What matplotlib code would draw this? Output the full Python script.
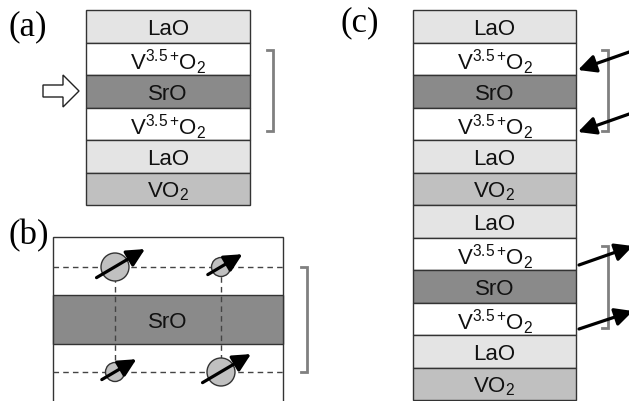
import matplotlib
matplotlib.use("Agg")
import matplotlib.pyplot as plt
from matplotlib.patches import Rectangle, Circle, FancyArrow

plt.rcParams['mathtext.fontset'] = 'custom'
plt.rcParams['mathtext.rm'] = 'Liberation Sans'
plt.rcParams['mathtext.it'] = 'Liberation Sans'
plt.rcParams['font.family'] = ['Liberation Sans', 'DejaVu Sans']

# ---------------- data ----------------
V_LAYER = r'$\mathregular{V^{3.5+}\!O_2}$'
VO2 = r'$\mathregular{VO_2}$'
layers_a = ['LaO', V_LAYER, 'SrO', V_LAYER, 'LaO', VO2]
layers_c = ['LaO', V_LAYER, 'SrO', V_LAYER, 'LaO', VO2,
            'LaO', V_LAYER, 'SrO', V_LAYER, 'LaO', VO2]
layer_colors = {'LaO': '#e4e4e4', 'SrO': '#8a8a8a', VO2: '#c0c0c0', V_LAYER: '#ffffff'}
panel_labels = ['(a)', '(b)', '(c)']
# spins in panel (b): (column, row, size) -> big/small moments
spin_cols = [0, 1, 0, 1]
spin_rows = [0, 0, 1, 1]
spin_big = [True, False, False, True]
# spin directions in panel (c): +1 pointing right/up, -1 pointing left/down
spin_dir_c = [-1, -1, 1, 1]

# ---------------- figure ----------------
W, H = 629, 401
fig = plt.figure(figsize=(W / 100, H / 100), dpi=100)
ax = fig.add_axes([0, 0, 1, 1])
ax.set_xlim(0, W)
ax.set_ylim(H, 0)
ax.axis('off')

LH = 32.5
EDGE = '#333333'
BR = '#808080'
FS = 16


def stack(x0, x1, y0, layers):
    for i, name in enumerate(layers):
        top = y0 + i * LH
        ax.add_patch(Rectangle((x0, top), x1 - x0, LH, facecolor=layer_colors[name],
                               edgecolor=EDGE, lw=1.0, zorder=1))
        off = 27 if name == V_LAYER else 25
        ax.text((x0 + x1) / 2, top + off, name, ha='center', va='baseline',
                fontsize=FS, color='#111111', zorder=3)


def bracket(x, y0, y1):
    ax.plot([x - 6, x, x, x - 6], [y0, y0, y1, y1], color=BR, lw=2, zorder=2,
            solid_joinstyle='miter')


def spin_arrow(tail, tip, lw=2.3, ms=12):
    ax.annotate('', xy=tip, xytext=tail,
                arrowprops=dict(arrowstyle='-|>,head_length=0.9,head_width=0.45',
                                lw=lw, color='black', mutation_scale=ms,
                                shrinkA=0, shrinkB=0), zorder=5,
                annotation_clip=False)


# panel (a)
ax_x0, ax_x1 = 86, 250
stack(ax_x0, ax_x1, 10, layers_a)
bracket(273, 50, 131)
ax.add_patch(FancyArrow(43, 91, 36, 0, width=12, head_width=32, head_length=16,
                        length_includes_head=True, facecolor='white',
                        edgecolor='#222222', lw=1.0, zorder=3))

# panel (b)
bx0, bx1 = 53, 283
ax.add_patch(Rectangle((bx0, 237), bx1 - bx0, 170, facecolor='white', edgecolor=EDGE,
                       lw=1.0, zorder=1))
ax.add_patch(Rectangle((bx0, 295), bx1 - bx0, 49, facecolor=layer_colors['SrO'],
                       edgecolor=EDGE, lw=1.0, zorder=1))
ax.text((bx0 + bx1) / 2, 328, 'SrO', ha='center', va='baseline', fontsize=FS,
        color='#111111', zorder=3)
row_y = [267, 372]
col_x = [115, 221]
for y in row_y:
    ax.plot([bx0, bx1], [y, y], ls=(0, (4, 3)), color='#444444', lw=1, zorder=2)
for x in col_x:
    ax.plot([x, x], [row_y[0], row_y[1]], ls=(0, (4, 3)), color='#444444', lw=1, zorder=2)
for c, r, big in zip(spin_cols, spin_rows, spin_big):
    cx, cy = col_x[c], row_y[r]
    rad = 14 if big else 9.5
    ax.add_patch(Circle((cx, cy), rad, facecolor='#c0c0c0', edgecolor='#333333',
                        lw=1.0, zorder=4))
    L = 28 if big else 20
    spin_arrow((cx - 0.66 * L, cy + 0.38 * L), (cx + 1.07 * L, cy - 0.64 * L))
bracket(307, 267, 372)

# panel (c)
cx0, cx1 = 413, 576
stack(cx0, cx1, 10, layers_c)
bracket(608, 50, 131)
bracket(608, 246, 328)
arrow_y = [(70, 51), (132, 113), (265, 246), (329, 311)]
for (ya, yb), d in zip(arrow_y, spin_dir_c):
    if d < 0:
        spin_arrow((632, yb), (578, ya))
    else:
        spin_arrow((579, ya), (633, yb))

# panel labels
lab_pos = [(8, 35), (8, 244), (340, 31)]
for t, (x, y) in zip(panel_labels, lab_pos):
    ax.text(x, y, t, ha='left', va='baseline', fontsize=25,
            family='Liberation Serif', color='black')

fig.savefig('out.png', dpi=100)
